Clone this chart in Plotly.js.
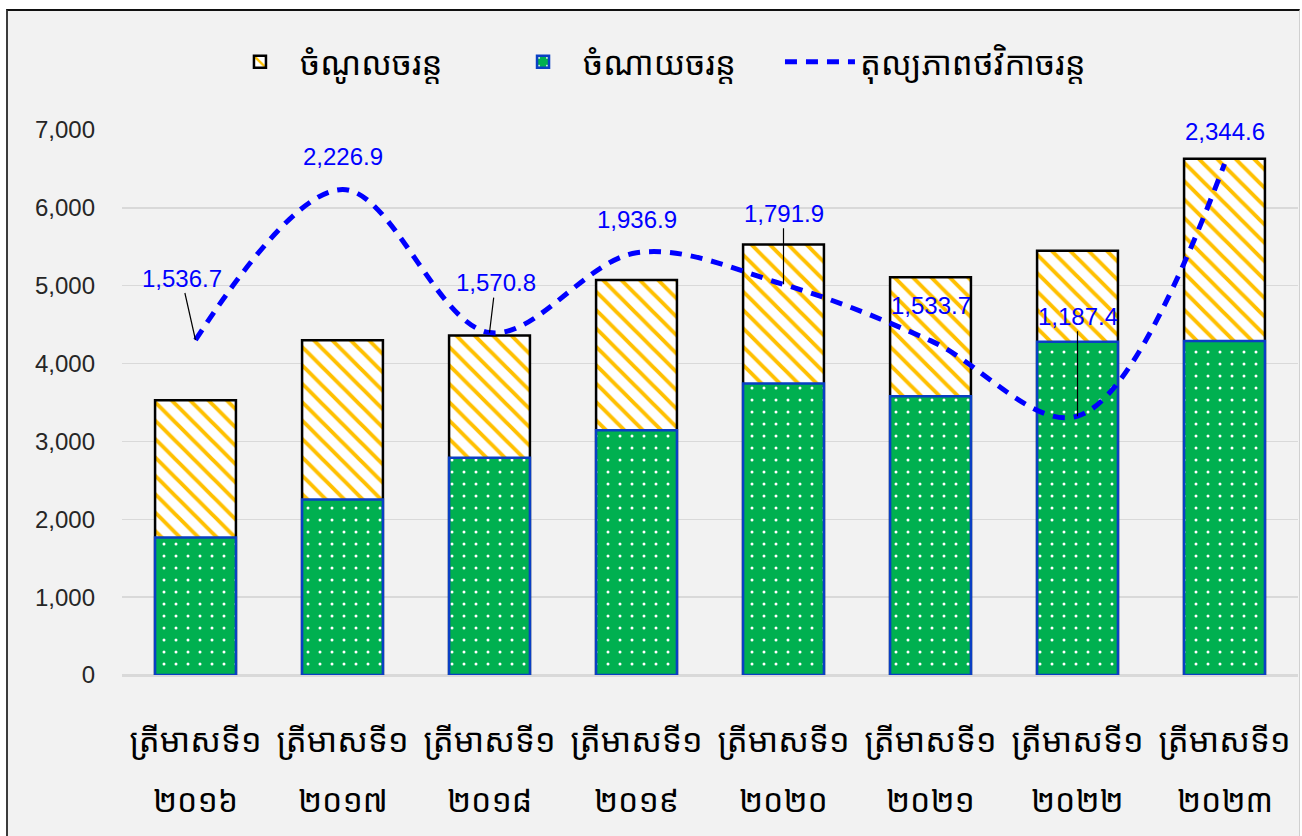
<!DOCTYPE html>
<html>
<head>
<meta charset="utf-8">
<script src="https://cdn.plot.ly/plotly-3.0.1.min.js"></script>
<style>
  html, body { margin: 0; padding: 0; background: #ffffff; overflow: hidden; }
  #frame { position: absolute; left: 6px; top: 9px; width: 1291px; height: 840px;
           background: #f2f2f2; border-left: 2px solid #3c3c3c; border-top: 2px solid #111111;
           border-right: 1px solid #d0d0d0; }
  #chart { position: absolute; left: 0; top: 0; width: 1302px; height: 836px; }
</style>
</head>
<body>
<div id="frame"></div>
<div id="chart"></div>
<script>
// ---- data ----
const tickLine1 = ['ត្រីមាសទី១', 'ត្រីមាសទី១', 'ត្រីមាសទី១', 'ត្រីមាសទី១', 'ត្រីមាសទី១', 'ត្រីមាសទី១', 'ត្រីមាសទី១', 'ត្រីមាសទី១'];
const tickLine2 = ['២០១៦', '២០១៧', '២០១៨', '២០១៩', '២០២០', '២០២១', '២០២២', '២០២៣'];
const revenue = [3530, 4300, 4360, 5075, 5530, 5110, 5450, 6630];       // ចំណូលចរន្ត
const expenditure = [1765, 2255, 2790, 3145, 3745, 3580, 4280, 4290];   // ចំណាយចរន្ត
const balance = [1536.7, 2226.9, 1570.8, 1936.9, 1791.9, 1533.7, 1187.4, 2344.6]; // តុល្យភាពថវិកាចរន្ត
const seriesNames = ['ចំណូលចរន្ត', 'ចំណាយចរន្ត', 'តុល្យភាពថវិកាចរន្ត'];

// ---- label placement (style only) ----
const labelOffsets = [[-14, -62, true], [0, -33, false], [6, -50, true], [0, -33, false],
                      [0, -71, true], [0, -35, false], [0, -100, true], [0, -32, false]];

const khmerFont = '"Khmer OS System", "Khmer OS", "Noto Sans Khmer", "Noto Serif Khmer", "Noto Sans", sans-serif';
const numFont = '"Liberation Sans Narrow", "Arial Narrow", "Liberation Sans", Arial, sans-serif';

// unique category keys (line 1 + year)
const categories = tickLine1.map((t, i) => t + ' ' + tickLine2[i]);

const traces = [
  {
    type: 'bar', name: seriesNames[0], x: categories, y: revenue, legend: 'legend',
    marker: {
      color: '#ffffff',
      line: { color: '#000000', width: 2.5 },
      pattern: { shape: '\\', fgcolor: '#ffc000', bgcolor: '#ffffff', size: 13, solidity: 0.3, fillmode: 'replace' }
    },
    hoverinfo: 'y+name'
  },
  {
    type: 'bar', name: seriesNames[1], x: categories, y: expenditure, legend: 'legend2',
    marker: {
      color: '#00b050',
      line: { color: '#0a3fc4', width: 2.5 },
      pattern: { shape: '.', fgcolor: '#ffffff', bgcolor: '#00b050', size: 12, solidity: 0.05, fillmode: 'replace' }
    },
    hoverinfo: 'y+name'
  },
  {
    type: 'scatter', mode: 'lines', name: seriesNames[2], x: categories, y: balance, yaxis: 'y2', legend: 'legend3',
    line: { color: '#0000ff', width: 5, dash: '12px,9px', shape: 'spline', smoothing: 1 },
    hoverinfo: 'y+name'
  }
];

const valueLabels = balance.map((v, i) => ({
  x: i, y: v, xref: 'x', yref: 'y2',
  text: v.toLocaleString('en-US', { minimumFractionDigits: 1, maximumFractionDigits: 1 }),
  showarrow: true, arrowhead: 0, arrowwidth: 1.2,
  arrowcolor: labelOffsets[i][2] ? '#000000' : 'rgba(0,0,0,0)',
  ax: labelOffsets[i][0], ay: labelOffsets[i][1], standoff: 0,
  font: { family: numFont, size: 24, color: '#0000ff' }
}));

const yearLabels = tickLine2.map((t, i) => ({
  x: i, y: -0.229, xref: 'x', yref: 'paper', yanchor: 'middle',
  text: t, showarrow: false,
  font: { family: khmerFont, size: 32, color: '#000000' }
}));

const legendBase = {
  orientation: 'h', xanchor: 'left', y: 1.125, yanchor: 'middle',
  font: { family: khmerFont, size: 33, color: '#000000' },
  bgcolor: 'rgba(0,0,0,0)', itemwidth: 70
};

const layout = {
  width: 1302, height: 836,
  margin: { l: 122, r: 4, t: 130, b: 161 },
  paper_bgcolor: 'rgba(0,0,0,0)',
  plot_bgcolor: 'rgba(0,0,0,0)',
  barmode: 'overlay',
  bargap: 0.45,
  showlegend: true,
  legend: Object.assign({}, legendBase, { x: 0.0833 }),
  legend2: Object.assign({}, legendBase, { x: 0.324 }),
  legend3: Object.assign({}, legendBase, { x: 0.5595 }),
  xaxis: {
    type: 'category', range: [-0.5, 7.5],
    tickvals: categories, ticktext: tickLine1,
    tickfont: { family: khmerFont, size: 33, color: '#000000' },
    tickangle: 0,
    showgrid: false, showline: true, linecolor: '#d9d9d9', linewidth: 1.5,
    ticks: '', ticklabelstandoff: 36
  },
  yaxis: {
    range: [0, 7000], dtick: 1000, tickformat: ',',
    tickfont: { family: '"Liberation Sans", Arial, sans-serif', size: 24, color: '#262626' },
    showgrid: true, gridcolor: '#d9d9d9', gridwidth: 1.5,
    zeroline: true, zerolinecolor: '#d9d9d9', zerolinewidth: 1.5,
    showline: false, ticks: '', ticklabelstandoff: 26
  },
  yaxis2: {
    range: [0, 2500], overlaying: 'y', side: 'right', visible: false, showgrid: false
  },
  annotations: valueLabels.concat(yearLabels)
};

Plotly.newPlot('chart', traces, layout, { displayModeBar: false, staticPlot: true });
</script>
</body>
</html>
